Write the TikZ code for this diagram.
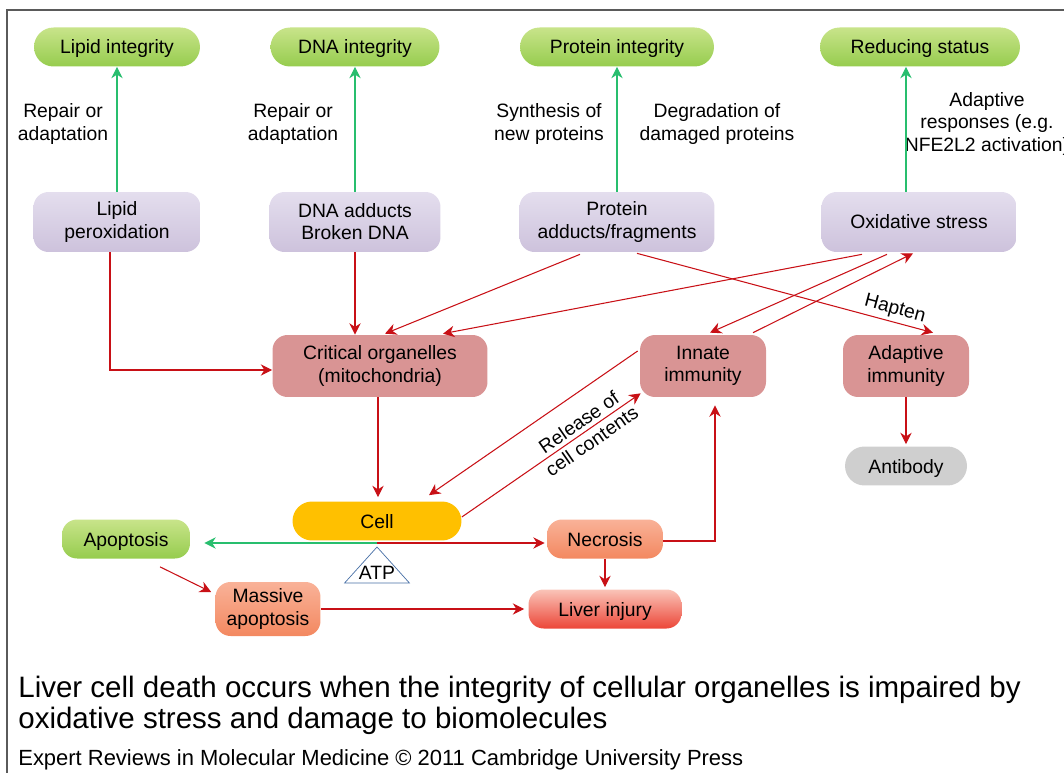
\documentclass[tikz,border=0pt]{standalone}
\usepackage{fontspec}
\setmainfont{Liberation Sans}
\usetikzlibrary{arrows.meta,calc,shapes.geometric}

\definecolor{arrred}{RGB}{200,16,22}
\definecolor{arrgreen}{RGB}{40,190,110}
\definecolor{greentop}{RGB}{200,228,138}
\definecolor{greenbot}{RGB}{150,204,78}
\definecolor{lilactop}{RGB}{228,222,238}
\definecolor{lilacbot}{RGB}{205,194,220}
\definecolor{rosebox}{RGB}{217,148,148}
\definecolor{cellbox}{RGB}{255,192,0}
\definecolor{salmontop}{RGB}{249,178,152}
\definecolor{salmonbot}{RGB}{243,136,96}
\definecolor{injtop}{RGB}{250,196,184}
\definecolor{injbot}{RGB}{236,70,56}
\definecolor{atpblue}{RGB}{70,110,165}
\definecolor{framegray}{RGB}{90,90,90}

\begin{document}
\begin{tikzpicture}[x=0.02cm,y=-0.02cm,
  every node/.style={font=\fontsize{11}{12.6}\selectfont, align=center, inner sep=0pt},
  oneline/.style={text depth=0pt},
  greenbox/.style={oneline, top color=greentop, bottom color=greenbot, rounded corners=0.39cm, minimum height=0.78cm},
  lilacbox/.style={top color=lilactop, bottom color=lilacbot, rounded corners=0.3cm, minimum height=1.2cm},
  rosebox/.style={fill=rosebox, rounded corners=0.3cm, minimum height=1.24cm},
  salmonbox/.style={top color=salmontop, bottom color=salmonbot, rounded corners=0.3cm},
  redarr/.style={draw=arrred, line width=0.6pt, -{Stealth[length=6.5pt,width=6.5pt]}},
  greenarr/.style={draw=arrgreen, line width=0.6pt, -{Stealth[length=6.5pt,width=6.5pt]}}]
\useasboundingbox (0,0) rectangle (1064,773);
\draw[framegray, line width=1.1pt] (7,773) -- (7,10) -- (1064,10);

% top row
\node[greenbox, minimum width=3.32cm] (lipint) at (117,47) {Lipid integrity};
\node[greenbox, minimum width=3.38cm] (dnaint) at (355,47) {DNA integrity};
\node[greenbox, minimum width=3.88cm] (protint) at (617,47) {Protein integrity};
\node[greenbox, minimum width=4.0cm] (redstat) at (920,47) {Reducing status};

\node[lilacbox, minimum width=3.34cm] (lipperox) at (117,222) {Lipid\\peroxidation};
\node[lilacbox, minimum width=3.42cm] (dnaadd) at (355,222) {DNA adducts\\Broken DNA};
\node[lilacbox, minimum width=3.9cm] (protadd) at (617,222) {Protein\\adducts/fragments};
\node[lilacbox, oneline, minimum width=3.9cm] (oxstress) at (919,222) {Oxidative stress};

\node (lbl1) at (63,124) {Repair or\\adaptation};
\node (lbl2) at (293,124) {Repair or\\adaptation};
\node (lbl3) at (549,124) {Synthesis of\\new proteins};
\node (lbl4) at (717,124) {Degradation of\\damaged proteins};
\node (lbl5) at (987,124) {Adaptive\\responses (e.g.\\NFE2L2 activation)};

\draw[greenarr] (lipperox.north) -- (lipint.south);
\draw[greenarr] (dnaadd.north) -- (dnaint.south);
\draw[greenarr] (protadd.north) -- (protint.south);
\draw[greenarr] ($(oxstress.north)+(-13,0)$) -- ($(redstat.south)+(-14,0)$);

% middle row
\node[rosebox, minimum width=4.3cm] (organ) at (380,366) {Critical organelles\\(mitochondria)};
\node[rosebox, minimum width=2.52cm] (innate) at (703,366) {Innate\\immunity};
\node[rosebox, minimum width=2.52cm] (adapt) at (906,366) {Adaptive\\immunity};
\node[oneline, fill=black!19, rounded corners=0.39cm, minimum width=2.44cm, minimum height=0.78cm] (antib) at (906,466) {Antibody};

% bottom
\node[oneline, fill=cellbox, rounded corners=0.39cm, minimum width=3.38cm, minimum height=0.78cm] (cell) at (377,521) {Cell};
\node[greenbox, minimum width=2.56cm, rounded corners=0.3cm] (apop) at (126,539) {Apoptosis};
\node[salmonbox, oneline, minimum width=2.32cm, minimum height=0.78cm] (necro) at (605,539) {Necrosis};
\node[salmonbox, minimum width=2.1cm, minimum height=1.08cm] (massap) at (268,609) {Massive\\apoptosis};
\node[oneline, top color=injtop, bottom color=injbot, rounded corners=0.3cm, minimum width=3.06cm, minimum height=0.78cm] (liver) at (605,609) {Liver injury};
\node[draw=atpblue, isosceles triangle, isosceles triangle apex angle=84, shape border rotate=90, minimum height=0.72cm, inner sep=1pt] (atp) at (377,569) {};
\node at (377,573) {ATP};
\coordinate (split) at (377,543);

\draw[redarr] ($(lipperox.south)+(-7,0)$) |- ($(organ.west)+(0,4)$);
\draw[redarr] (dnaadd.south) -- (dnaadd.south |- organ.north);
\draw[redarr] ($(protadd.south)+(-37,2)$) -- ($(organ.north)+(5,-1)$);
\draw[redarr] ($(oxstress.south)+(-57,2)$) -- ($(organ.north)+(63,-1)$);
\draw[redarr] ($(protadd.south)+(20,1)$) -- node[pos=0.86, above=2pt, sloped] {Hapten} ($(adapt.north)+(27,-2)$);
\draw[redarr] ($(oxstress.south)+(-32,2)$) -- ($(innate.north)+(7,-2)$);
\draw[redarr] ($(innate.north)+(50,-2)$) -- ($(oxstress.south)+(-6,1)$);
\draw[redarr] ($(organ.south)+(-2,0)$) -- ($(cell.north)+(1,-4)$);
\draw[redarr] ($(innate.west)+(-2,-15)$) -- ($(cell.north)+(52,-6)$);
\draw[redarr] ($(cell.east)+(0,-4)$) -- node[pos=0.69, sloped, font=\fontsize{11}{13}\selectfont] {Release of\\cell contents} ($(innate.south west)+(1,-4)$);
\draw[greenarr] (split) -- ($(apop.east)+(14,4)$);
\draw[redarr] (split) -- ($(necro.west)+(-2,4)$);
\draw[redarr] ($(apop.south)+(34,8)$) -- ($(massap.west)+(-4,-17)$);
\draw[redarr] (massap.east) -- ($(liver.west)+(-4,0)$);
\draw[redarr] (necro.south) -- ($(liver.north)+(0,-2)$);
\draw[redarr] ($(necro.east)+(0,2)$) -| ($(innate.south)+(12,8)$);
\draw[redarr] (adapt.south) -- ($(antib.north)+(0,-2)$);

% caption
\node[anchor=west, font=\fontsize{16.8}{20}\selectfont] (cap1) at (18,690) {Liver cell death occurs when the integrity of cellular organelles is impaired by};
\node[anchor=west, font=\fontsize{16.8}{20}\selectfont] (cap2) at (18,721) {oxidative stress and damage to biomolecules};
\node[anchor=west, font=\fontsize{12.5}{15}\selectfont] (credit) at (18,760) {Expert Reviews in Molecular Medicine © 2011 Cambridge University Press};
\end{tikzpicture}
\end{document}
